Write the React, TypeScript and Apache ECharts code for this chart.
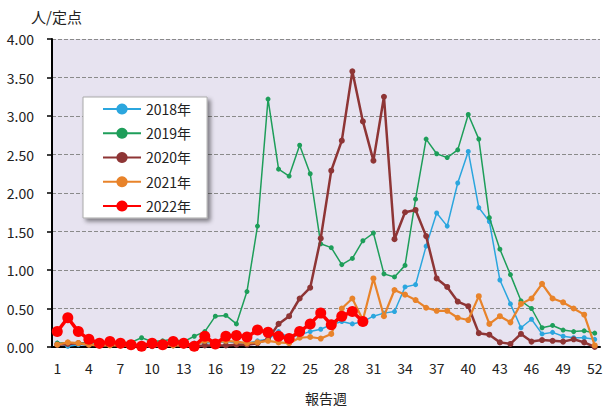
import React, { useEffect, useRef } from "react";
import * as echarts from "echarts";

const weeks: string[] = Array.from({ length: 52 }, (_, i) => String(i + 1));

const s2018: (number | null)[] = [
  0.05, 0.01, 0.03, 0.03, 0.02, 0.02, 0.03, 0.02, 0.03, 0.04, 0.03, 0.04, 0.03,
  0.05, 0.06, 0.05, 0.07, 0.06, 0.05, 0.08, 0.1, 0.2, 0.12, 0.16,
  0.2, 0.23, 0.29, 0.33, 0.3, 0.33, 0.4, 0.44, 0.46, 0.78, 0.81, 1.31, 1.74, 1.57,
  2.13, 2.54, 1.81, 1.63, 0.87, 0.56, 0.25, 0.36, 0.17, 0.19, 0.14, 0.12, 0.12, 0.1,
];
const s2019: (number | null)[] = [
  0.05, 0.06, 0.05, 0.06, 0.05, 0.07, 0.06, 0.06, 0.12, 0.07, 0.08, 0.1, 0.07,
  0.14, 0.2, 0.4, 0.41, 0.3, 0.72, 1.57, 3.22, 2.31, 2.22, 2.62, 2.25, 1.34, 1.29,
  1.07, 1.15, 1.38, 1.48, 0.95, 0.91, 1.06, 1.92, 2.7, 2.51, 2.46, 2.56, 3.02, 2.7,
  1.68, 1.27, 0.94, 0.6, 0.5, 0.25, 0.28, 0.22, 0.2, 0.21, 0.18,
];
const s2020: (number | null)[] = [
  0.03, 0.04, 0.05, 0.03, 0.02, 0.03, 0.02, 0.02, 0.02, 0.01, 0.02, 0.02, 0.02,
  0.01, 0.02, 0.02, 0.02, 0.03, 0.03, 0.05, 0.1, 0.3, 0.4, 0.63, 0.77, 1.41, 2.29,
  2.68, 3.58, 2.93, 2.42, 3.25, 1.4, 1.75, 1.78, 1.44, 0.89, 0.78, 0.59, 0.53, 0.18,
  0.16, 0.06, 0.04, 0.17, 0.07, 0.09, 0.08, 0.07, 0.1, 0.06, 0.0,
];
const s2021: (number | null)[] = [
  0.03, 0.06, 0.05, 0.03, 0.02, 0.02, 0.02, 0.02, 0.02, 0.02, 0.02, 0.02, 0.02,
  0.02, 0.08, 0.06, 0.08, 0.07, 0.05, 0.06, 0.08, 0.06, 0.05, 0.12, 0.13, 0.11, 0.17,
  0.5, 0.63, 0.35, 0.89, 0.4, 0.74, 0.68, 0.61, 0.51, 0.47, 0.47, 0.38, 0.35, 0.66,
  0.3, 0.4, 0.32, 0.56, 0.63, 0.82, 0.63, 0.58, 0.5, 0.42, 0.02,
];
const s2022: (number | null)[] = [
  0.2, 0.38, 0.2, 0.1, 0.05, 0.07, 0.05, 0.03, 0.01, 0.05, 0.03, 0.07, 0.05, 0.01,
  0.14, 0.04, 0.14, 0.15, 0.13, 0.22, 0.19, 0.14, 0.11, 0.2, 0.3, 0.44, 0.29, 0.4,
  0.46, 0.33,
];

const seriesNames = ["2018年", "2019年", "2020年", "2021年", "2022年"];
const yTicks = [0, 0.5, 1, 1.5, 2, 2.5, 3, 3.5, 4];

const FONT = '"Noto Sans CJK JP", "Noto Sans", sans-serif';

export default function App() {
  const ref = useRef<HTMLDivElement>(null);
  useEffect(() => {
    document.body.style.margin = "0";
    if (!ref.current) return;
    const chart = echarts.init(ref.current, undefined, { renderer: "svg" });
    const mk = (
      name: string,
      data: (number | null)[],
      color: string,
      width: number,
      size: number,
      z: number
    ) => ({
      name,
      type: "line",
      data,
      symbol: "circle",
      symbolSize: size,
      showAllSymbol: true,
      z,
      lineStyle: { color, width },
      itemStyle: { color },
      connectNulls: false,
    });
    chart.setOption({
      animation: false,
      textStyle: { fontFamily: FONT },
      grid: {
        left: 52,
        right: 9,
        top: 39,
        bottom: 57,
        show: true,
        backgroundColor: "#E7E3F0",
        borderWidth: 0,
      },
      graphic: [
        {
          type: "text",
          left: 31,
          top: 9,
          style: { text: "人/定点", fontSize: 15, fill: "#222", fontFamily: FONT },
        },
      ],
      legend: {
        orient: "vertical",
        left: 83,
        top: 97,
        padding: [5, 16, 5, 19],
        itemWidth: 38,
        itemHeight: 14,
        itemGap: 10.25,
        backgroundColor: "#ffffff",
        borderColor: "#aaaaaa",
        borderWidth: 1,
        shadowBlur: 4,
        shadowColor: "rgba(0,0,0,0.45)",
        shadowOffsetX: 3,
        shadowOffsetY: 3,
        textStyle: { fontSize: 14, color: "#222", fontFamily: FONT },
        data: seriesNames,
      },
      xAxis: {
        type: "category",
        data: weeks,
        boundaryGap: true,
        name: "報告週",
        nameLocation: "middle",
        nameGap: 44,
        nameTextStyle: { fontSize: 14, color: "#222", fontFamily: FONT },
        axisLine: { lineStyle: { color: "#000", width: 2 } },
        axisTick: { alignWithLabel: true, interval: 0, length: 5, lineStyle: { color: "#000", width: 1.5 } },
        axisLabel: { interval: 2, fontSize: 14, color: "#222", margin: 14 },
        splitLine: { show: false },
      },
      yAxis: {
        type: "value",
        min: 0,
        max: 4,
        interval: 0.5,
        axisLine: { show: true, lineStyle: { color: "#000", width: 2 } },
        axisTick: { show: true, length: 5, lineStyle: { color: "#000", width: 1.5 } },
        axisLabel: {
          fontSize: 14,
          color: "#222",
          margin: 18,
          formatter: (v: number) => (yTicks.includes(v) ? v.toFixed(2) : ""),
        },
        splitLine: { show: true, lineStyle: { color: "#8a8a8a", type: "dashed", width: 1 } },
      },
      series: [
        mk("2018年", s2018, "#2BA6DE", 1.5, 5, 2),
        mk("2019年", s2019, "#1E9E5A", 1.5, 5, 3),
        mk("2020年", s2020, "#8E3535", 2.5, 6, 4),
        mk("2021年", s2021, "#E8832A", 2.2, 6, 5),
        mk("2022年", s2022, "#FF0000", 3.5, 11, 6),
      ],
    });
    return () => chart.dispose();
  }, []);
  return <div ref={ref} style={{ width: 609, height: 410 }} />;
}
